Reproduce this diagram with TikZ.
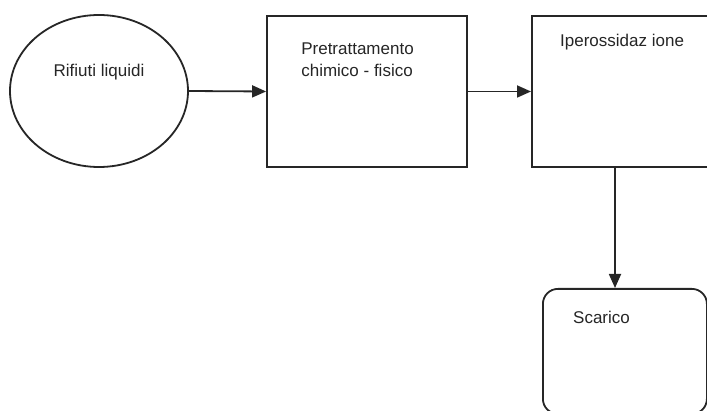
\documentclass[tikz,border=0pt]{standalone}
\usepackage{fontspec}
\setmainfont{Liberation Sans}
\usetikzlibrary{positioning,shapes.geometric,arrows.meta}

\begin{document}
\begin{tikzpicture}[
x=1pt, y=-1pt,
shapenode/.style={draw=black!85, line width=1.8pt, fill=white, inner sep=0pt},
squarednode/.style={shapenode, rectangle, minimum width=200pt, minimum height=151pt},
roundnode/.style={shapenode, ellipse, minimum width=178pt, minimum height=152pt},
endnode/.style={shapenode, rectangle, rounded corners=15pt, minimum width=164pt, minimum height=125pt},
txt/.style={inner sep=0pt, align=left, font=\fontsize{17}{22}\selectfont, text=black!85},
flow/.style={draw=black!85, line width=1.8pt, -{Triangle[length=14pt,width=12pt]}},
]
\useasboundingbox (0,0) rectangle (707,411);
\clip (0,0) rectangle (707,411);
%Nodes
\node[roundnode]    (waste)     at (99,91)    {};
\node[squarednode]  (pretreat)  at (367,91.5) {};
\node[squarednode, minimum width=260pt, anchor=west] (hyperox) at (531,91.5) {};
\node[endnode, anchor=north west] (discharge) at (542,288) {};

%Labels
\node[txt, anchor=base] (wastetxt) at ([yshift=14pt]waste.center) {Rifiuti liquidi};
\node[txt, below right=28pt and 35pt of pretreat.north west] (pretreattxt) {Pretrattamento\\chimico - fisico};
\node[txt, below right=19pt and 29pt of hyperox.north west] (hyperoxtxt) {Iperossidaz ione};
\node[txt, below right=23pt and 31pt of discharge.north west] (dischargetxt) {Scarico};

%Lines
\draw[flow] (waste.east) -- (pretreat.west);
\draw[flow] (pretreat.east) -- (hyperox.west);
\draw[flow] ([xshift=84pt]hyperox.south west) -- ([xshift=73pt]discharge.north west);
\end{tikzpicture}
\end{document}
